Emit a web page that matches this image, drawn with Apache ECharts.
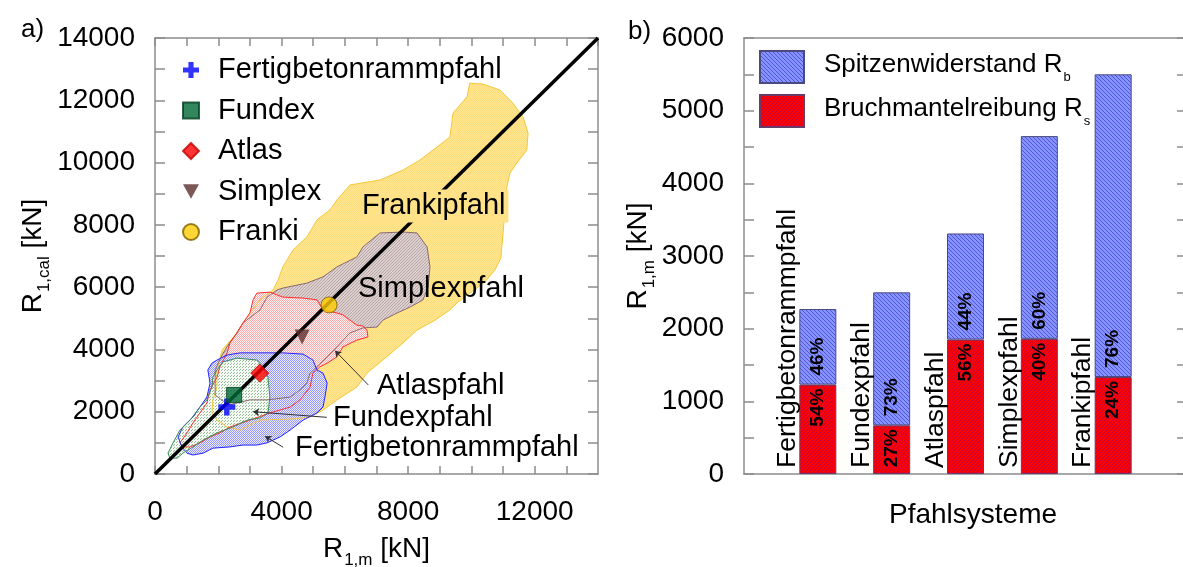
<!DOCTYPE html>
<html><head><meta charset="utf-8">
<script src="https://cdn.jsdelivr.net/npm/echarts@6/dist/echarts.min.js"></script>
<style>html,body{margin:0;padding:0;background:#fff}#c{width:1183px;height:567px}</style>
</head><body><div id="c"></div>
<script>
const FONT = '"Liberation Sans", Arial, Helvetica, sans-serif';

// ---------- left panel data (a) ----------
const pileTypes = ['Fertigbetonrammpfahl', 'Fundex', 'Atlas', 'Simplex', 'Franki'];
const meanRm   = [2270, 2500, 3310, 4650, 5500];
const meanRcal = [2150, 2540, 3240, 4400, 5430];
const diagonal = [[0, 0], [14000, 14000]];
const xTicksA = [0, 4000, 8000, 12000];
const yTicksA = [0, 2000, 4000, 6000, 8000, 10000, 12000, 14000];

const regionFranki = [[9950,12550],[10370,12520],[10900,12330],[11310,11910],[11630,11460],[11790,10950],[11750,10400],[11440,9990],[11220,9670],[11120,9220],[11060,8480],[11000,7740],[10930,6940],[10740,6550],[10430,6170],[9950,5810],[9570,5520],[9320,5270],[8850,4940],[8280,4620],[7840,4210],[7200,3660],[6700,3240],[6380,2790],[5750,2380],[5310,2050],[4900,1830],[4360,1770],[3320,1730],[2690,1410],[2280,1510],[1960,1730],[1800,1960],[1830,2380],[1960,2790],[1960,3340],[2120,3980],[2530,4460],[2840,4940],[3320,5590],[3730,5910],[3890,6230],[4040,6650],[4360,7190],[4800,7610],[5120,8160],[5530,8480],[5750,8800],[6160,9280],[7110,9440],[7840,9760],[8370,10080],[8910,10500],[9320,10820],[9420,11590],[9860,12110]];
const regionSimplex = [[7840,7770],[8280,7740],[8600,7290],[8690,6650],[8630,6000],[8470,5590],[8060,5360],[7650,5170],[7200,4940],[7020,4720],[6570,4690],[6160,4530],[5750,4080],[5440,3760],[5120,3440],[4900,3240],[4800,2920],[4580,2700],[4270,2470],[3540,2380],[3000,2380],[2590,2280],[2310,2220],[1900,2540],[1900,3340],[2120,3820],[2310,4140],[2590,4530],[2780,4850],[3320,5270],[3540,5680],[3860,5910],[4040,5970],[4800,6130],[5310,6330],[5750,6650],[6380,6970],[6570,7290],[7110,7740]];
const regionAtlas = [[3220,5810],[3630,5840],[4040,5680],[4680,5650],[5120,5590],[5310,5270],[5750,5170],[5940,5110],[6160,4940],[6380,4780],[6570,4750],[6700,4620],[6730,4400],[6380,4300],[5940,4080],[5750,3760],[5440,3560],[5210,3440],[4990,3240],[4900,2790],[4580,2380],[4270,2150],[3630,1960],[3000,1730],[2370,1510],[2050,1320],[1740,1190],[1420,1000],[1110,870],[880,870],[790,1000],[1010,1320],[1200,1640],[1420,1960],[1640,2280],[1740,2700],[1960,3110],[2050,3440],[2280,3890],[2370,4210],[2590,4530],[2780,4850],[3000,5170],[3100,5590]];
const regionFertig = [[1960,3660],[2280,3820],[2690,3890],[3540,3890],[4040,3890],[4680,3850],[4990,3660],[5120,3340],[5310,3240],[5440,2920],[5370,2470],[5310,2150],[5120,1960],[4680,1730],[4270,1410],[3950,1190],[3540,1000],[3220,930],[2780,930],[2370,870],[1830,830],[1520,670],[1200,610],[1010,670],[850,870],[730,1190],[880,1510],[1200,1830],[1420,2150],[1640,2470],[1740,2920],[1670,3340],[1800,3560]];
const regionFundex = [[1960,3340],[2150,3600],[2590,3720],[3220,3660],[3410,3440],[3570,3110],[3630,2470],[3570,1960],[3320,1800],[2910,1730],[2460,1510],[1960,1320],[1520,1090],[1200,870],[880,670],[700,510],[470,510],[410,670],[570,1000],[790,1410],[1110,1730],[1420,2150],[1640,2380],[1800,2790],[1830,3110]];

const leaderAtlas  = [[5690, 3960], [6740, 2860]];
const leaderFundex = [[3100, 2000], [5430, 1820]];
const leaderFertig = [[3480, 1210], [4050, 860]];

// ---------- right panel data (b) ----------
const categories = ['Fertigbetonrammpfahl', 'Fundexpfahl', 'Atlaspfahl', 'Simplexpfahl', 'Frankipfahl'];
const rsValues = [1230, 670, 1850, 1860, 1335];   // Bruchmantelreibung R_s
const rbValues = [1040, 1830, 1460, 2790, 4165];  // Spitzenwiderstand R_b
const rsPct = ['54%', '27%', '56%', '40%', '24%'];
const rbPct = ['46%', '73%', '44%', '60%', '76%'];
const yTicksB = [0, 1000, 2000, 3000, 4000, 5000, 6000];

// ---------- patterns ----------
function pattern(size, base, fg, fn) {
  const c = document.createElement('canvas');
  c.width = c.height = size;
  const g = c.getContext('2d');
  if (base) { g.fillStyle = base; g.fillRect(0, 0, size, size); }
  g.fillStyle = fg;
  for (let y = 0; y < size; y++) for (let x = 0; x < size; x++) if (fn(x, y)) g.fillRect(x, y, 1, 1);
  return { image: c, repeat: 'repeat' };
}
const patBlue = pattern(4, '#8495ff', '#5850d8', (x, y) => ((x - y + 8) % 4) === 0);
const patRed  = pattern(4, '#ff0000', '#c4003e', (x, y) => ((x + y) % 4) === 0);

const regions = [
  { pts: regionFranki,  fill: pattern(2, '#ffe695', '#ffdd78', (x, y) => (x + y) % 2 === 0), stroke: '#f4c838' },
  { pts: regionSimplex, fill: pattern(3, '#dccfcf', '#bba6a6', (x, y) => (x + y) % 3 === 0), stroke: '#8a6a6a' },
  { pts: regionAtlas,   fill: pattern(2, '#fff2f2', '#ffaaaa', (x, y) => (x + y) % 2 === 0), stroke: '#ff3030' },
  { pts: regionFertig,  fill: pattern(2, '#eeeeff', '#9494ff', (x, y) => (x + y) % 2 === 0), stroke: '#2424ff' },
  { pts: regionFundex,  fill: pattern(3, '#f6f9f6', '#8fbf8f', (x, y) => (x + y) % 3 === 0 && x !== 1), stroke: '#3a8a5a' }
];

const axisCol = { color: '#8c8c8c', width: 1.5 };
const subRich = (big, small) => ({
  r: { fontSize: big, fontFamily: FONT, color: '#000', verticalAlign: 'top', lineHeight: big + 2 },
  s: { fontSize: small, fontFamily: FONT, color: '#000', verticalAlign: 'top', lineHeight: small + 1, padding: [Math.round(big * 0.6), 0, 0, 1] }
});

const plusPath = 'path://M3.4,0H6.6V3.4H10V6.6H6.6V10H3.4V6.6H0V3.4H3.4Z';
const downTri = 'path://M0,0H10L5,9Z';
const scatterStyles = [
  { symbol: plusPath, size: 17, itemStyle: { color: '#0000ff' } },
  { symbol: 'rect', size: 15, itemStyle: { color: '#006937', borderColor: '#003d1f', borderWidth: 1 } },
  { symbol: 'diamond', size: 18, itemStyle: { color: '#ff0000', borderColor: '#c00000', borderWidth: 1 } },
  { symbol: downTri, size: 15, itemStyle: { color: '#5b2f2d' } },
  { symbol: 'circle', size: 16, itemStyle: { color: '#ffcc00', borderColor: '#7a6000', borderWidth: 1 } }
];

const legendNames = { 'Spitzenwiderstand Rb': '{t|Spitzenwiderstand R}{s|b}', 'Bruchmantelreibung Rs': '{t|Bruchmantelreibung R}{s|s}' };
const barSlots = [' '].concat(categories, ['  ']);

const chart = echarts.init(document.getElementById('c'), null, { renderer: 'canvas' });
const option = {
  animation: false,
  backgroundColor: '#fff',
  textStyle: { fontFamily: FONT },
  grid: [
    { left: 155, top: 38, width: 443, height: 436, outerBoundsMode: 'none', containLabel: false },
    { left: 744, top: 38, width: 443, height: 436, outerBoundsMode: 'none', containLabel: false }
  ],
  xAxis: [
    { gridIndex: 0, type: 'value', min: 0, max: 14000, interval: 1000, position: 'bottom',
      axisLine: { show: true, onZero: false, lineStyle: axisCol },
      axisTick: { show: true, inside: true, length: 8, lineStyle: axisCol },
      splitLine: { show: false },
      axisLabel: { show: true, fontSize: 28, color: '#000', fontFamily: FONT, margin: 24, showMaxLabel: false,
        formatter: v => xTicksA.includes(v) ? String(v) : '' },
      name: '{r|R}{s|1,m}{r| [kN]}', nameLocation: 'middle', nameGap: 61,
      nameTextStyle: { rich: subRich(28, 17) } },
    { gridIndex: 0, type: 'value', min: 0, max: 14000, interval: 1000, position: 'top',
      axisLine: { show: true, onZero: false, lineStyle: axisCol },
      axisTick: { show: true, inside: true, length: 8, lineStyle: axisCol },
      splitLine: { show: false }, axisLabel: { show: false } },
    { gridIndex: 1, type: 'category', data: barSlots, boundaryGap: false, position: 'bottom',
      axisLine: { show: true, onZero: false, lineStyle: axisCol },
      axisTick: { show: false }, splitLine: { show: false }, axisLabel: { show: false },
      name: 'Pfahlsysteme', nameLocation: 'middle', nameGap: 27,
      nameTextStyle: { fontSize: 28, color: '#000', fontFamily: FONT, padding: [0, 0, 0, 15] } },
    { gridIndex: 1, type: 'category', data: barSlots, boundaryGap: false, position: 'top',
      axisLine: { show: true, onZero: false, lineStyle: axisCol },
      axisTick: { show: false }, splitLine: { show: false }, axisLabel: { show: false } }
  ],
  yAxis: [
    { gridIndex: 0, type: 'value', min: 0, max: 14000, interval: 1000, position: 'left',
      axisLine: { show: true, onZero: false, lineStyle: axisCol },
      axisTick: { show: true, inside: true, length: 10, lineStyle: axisCol },
      splitLine: { show: false },
      axisLabel: { show: true, fontSize: 28, color: '#000', fontFamily: FONT, margin: 20,
        formatter: v => yTicksA.includes(v) ? String(v) : '' },
      name: '{r|R}{s|1,cal}{r| [kN]}', nameLocation: 'middle', nameGap: 101,
      nameTextStyle: { rich: subRich(28, 17) } },
    { gridIndex: 0, type: 'value', min: 0, max: 14000, interval: 1000, position: 'right',
      axisLine: { show: true, onZero: false, lineStyle: axisCol },
      axisTick: { show: true, inside: true, length: 10, lineStyle: axisCol },
      splitLine: { show: false }, axisLabel: { show: false } },
    { gridIndex: 1, type: 'value', min: 0, max: 6000, interval: 500, position: 'left',
      axisLine: { show: true, onZero: false, lineStyle: axisCol },
      axisTick: { show: true, inside: true, length: 10, lineStyle: axisCol },
      splitLine: { show: false },
      axisLabel: { show: true, fontSize: 28, color: '#000', fontFamily: FONT, margin: 20,
        formatter: v => yTicksB.includes(v) ? String(v) : '' },
      name: '{r|R}{s|1,m}{r| [kN]}', nameLocation: 'middle', nameGap: 89,
      nameTextStyle: { rich: subRich(28, 17) } },
    { gridIndex: 1, type: 'value', min: 0, max: 6000, interval: 500, position: 'right',
      axisLine: { show: true, onZero: false, lineStyle: axisCol },
      axisTick: { show: true, inside: true, length: 10, lineStyle: axisCol },
      splitLine: { show: false }, axisLabel: { show: false } }
  ],
  legend: [
    { data: pileTypes.map((n, i) => ({ name: n, icon: scatterStyles[i].symbol })),
      orient: 'vertical', left: 182, top: 54, padding: 0, itemWidth: 16, itemHeight: 16, itemGap: 8.5,
      selectedMode: false,
      textStyle: { fontSize: 29, color: '#000', fontFamily: FONT, lineHeight: 32, padding: [0, 0, 0, 14] } },
    { data: [{ name: 'Spitzenwiderstand Rb', icon: 'rect' }, { name: 'Bruchmantelreibung Rs', icon: 'rect' }],
      orient: 'vertical', left: 759, top: 50, padding: 0, itemWidth: 44, itemHeight: 32, itemGap: 10,
      selectedMode: false,
      formatter: n => legendNames[n],
      textStyle: { padding: [0, 0, 0, 15], rich: {
        t: { fontSize: 26, fontFamily: FONT, color: '#000', verticalAlign: 'top', lineHeight: 30 },
        s: { fontSize: 13, fontFamily: FONT, color: '#000', verticalAlign: 'top', lineHeight: 14, padding: [19, 0, 0, 1] } } } }
  ],
  series: [
    { type: 'custom', name: 'regionFill', xAxisIndex: 0, yAxisIndex: 0, silent: true, z: 1,
      data: regions.map((r, i) => [i]),
      renderItem: (params, api) => {
        const r = regions[params.dataIndex];
        return { type: 'polygon', shape: { points: r.pts.map(p => api.coord(p)) }, style: { fill: r.fill, stroke: null } };
      } },
    { type: 'custom', name: 'regionOutline', xAxisIndex: 0, yAxisIndex: 0, silent: true, z: 2,
      data: regions.map((r, i) => [i]),
      renderItem: (params, api) => {
        const r = regions[params.dataIndex];
        return { type: 'polygon', shape: { points: r.pts.map(p => api.coord(p)) }, style: { fill: null, stroke: r.stroke, lineWidth: 1 } };
      } },
    { type: 'line', name: 'diagonal', xAxisIndex: 0, yAxisIndex: 0, data: diagonal, symbol: 'none', silent: true, z: 3,
      lineStyle: { color: '#000', width: 3.5 } },
    { type: 'lines', name: 'leaders', coordinateSystem: 'cartesian2d', xAxisIndex: 0, yAxisIndex: 0, z: 3, silent: true,
      symbol: ['arrow', 'none'], symbolSize: 6,
      lineStyle: { color: '#303030', width: 1, opacity: 1 },
      data: [leaderAtlas, leaderFundex, leaderFertig].map(c => ({ coords: c })) },
    ...pileTypes.map((n, i) => ({
      type: 'scatter', name: n, xAxisIndex: 0, yAxisIndex: 0, z: 5,
      symbol: scatterStyles[i].symbol, symbolSize: scatterStyles[i].size, itemStyle: scatterStyles[i].itemStyle,
      data: [[meanRm[i], meanRcal[i]]]
    })),
    { type: 'bar', name: 'Bruchmantelreibung Rs', xAxisIndex: 2, yAxisIndex: 2, stack: 'total', barWidth: 37,
      data: rsValues.map((v, i) => [i + 1, v]),
      itemStyle: { color: patRed, borderColor: '#6a3a6a', borderWidth: 1 },
      label: { show: true, position: 'insideTop', rotate: 90, align: 'right', verticalAlign: 'middle', distance: 4,
        fontSize: 19, fontWeight: 'bold', color: '#000', fontFamily: FONT, formatter: p => rsPct[p.dataIndex] } },
    { type: 'bar', name: 'Spitzenwiderstand Rb', xAxisIndex: 2, yAxisIndex: 2, stack: 'total', barWidth: 37,
      data: rbValues.map((v, i) => [i + 1, v]),
      itemStyle: { color: patBlue, borderColor: '#4a4a80', borderWidth: 1 },
      label: { show: true, position: 'insideBottom', rotate: 90, align: 'left', verticalAlign: 'middle', distance: 9,
        fontSize: 19, fontWeight: 'bold', color: '#000', fontFamily: FONT, formatter: p => rbPct[p.dataIndex] } },
    { type: 'custom', name: 'categoryLabels', xAxisIndex: 2, yAxisIndex: 2, silent: true, z: 4,
      data: categories.map((c, i) => [i + 1, 0]),
      renderItem: (params, api) => {
        const p = api.coord([api.value(0), api.value(1)]);
        return { type: 'text', x: p[0] - 30, y: p[1] - 6, rotation: Math.PI / 2,
          style: { text: categories[params.dataIndex], fontSize: 26.5, fontFamily: FONT, fill: '#000',
            align: 'left', verticalAlign: 'middle', textAlign: 'left', textVerticalAlign: 'middle' } };
      } }
  ],
  graphic: [
    { type: 'text', x: 21, y: 30, style: { text: 'a)', fontSize: 26, fontFamily: FONT, fill: '#000', verticalAlign: 'middle', textVerticalAlign: 'middle' } },
    { type: 'text', x: 628, y: 32, style: { text: 'b)', fontSize: 26, fontFamily: FONT, fill: '#000', verticalAlign: 'middle', textVerticalAlign: 'middle' } },
    { type: 'text', x: 359, y: 206, z: 10, style: { text: 'Frankipfahl', fontSize: 29, fontFamily: FONT, fill: '#000', verticalAlign: 'middle', textVerticalAlign: 'middle', backgroundColor: '#ffe287', padding: [2, 3] } },
    { type: 'text', x: 358, y: 289, z: 10, style: { text: 'Simplexpfahl', fontSize: 29, fontFamily: FONT, fill: '#000', verticalAlign: 'middle', textVerticalAlign: 'middle' } },
    { type: 'text', x: 377, y: 386, z: 10, style: { text: 'Atlaspfahl', fontSize: 29, fontFamily: FONT, fill: '#000', verticalAlign: 'middle', textVerticalAlign: 'middle' } },
    { type: 'text', x: 333, y: 418, z: 10, style: { text: 'Fundexpfahl', fontSize: 29, fontFamily: FONT, fill: '#000', verticalAlign: 'middle', textVerticalAlign: 'middle' } },
    { type: 'text', x: 295, y: 448, z: 10, style: { text: 'Fertigbetonrammpfahl', fontSize: 29, fontFamily: FONT, fill: '#000', verticalAlign: 'middle', textVerticalAlign: 'middle' } }
  ]
};
chart.setOption(option);
</script>
</body></html>
